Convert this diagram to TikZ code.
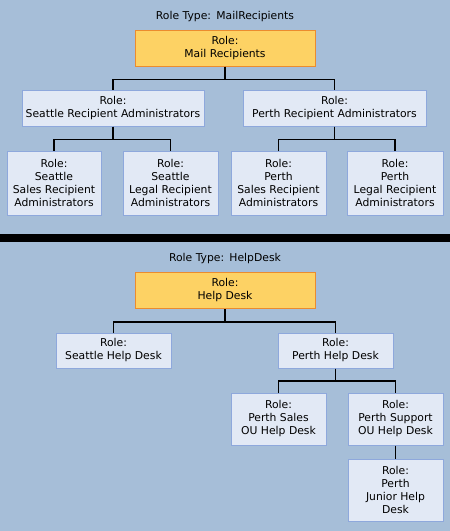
\documentclass[tikz,border=0pt]{standalone}
\usepackage{fontspec}
\setmainfont{DejaVu Sans}
\definecolor{bgblue}{HTML}{A6BED8}
\definecolor{boxfill}{HTML}{E2E9F5}
\definecolor{boxline}{HTML}{8EA8DC}
\definecolor{topfill}{HTML}{FDD264}
\definecolor{topline}{HTML}{EB8C2E}

\begin{document}
\begin{tikzpicture}[x=1pt,y=-1pt,
  rolebox/.style={draw=boxline,fill=boxfill,line width=1pt,inner sep=0pt,
    align=center,font=\fontsize{10.8}{13}\selectfont},
  toprole/.style={rolebox,draw=topline,fill=topfill,minimum width=180pt,minimum height=36pt},
  tree/.style={line width=1.8pt,black},
  typetitle/.style={font=\fontsize{10.8}{13}\selectfont}]
\useasboundingbox (0,0) rectangle (450,531);
\fill[bgblue] (0,0) rectangle (450,531);
% Mail recipients
\node[typetitle] (title1) at (225,17) {Role Type:\ \,MailRecipients};
\node[toprole] (mail) at (225,48) {Role:\\Mail Recipients};
\node[rolebox,minimum width=182pt,minimum height=36pt] (seaadm) at (113,108)
  {Role:\\Seattle Recipient Administrators};
\node[rolebox,minimum width=183pt,minimum height=36pt] (peradm) at (334.5,108)
  {Role:\\Perth Recipient Administrators};
\node[rolebox,minimum width=94pt,minimum height=64pt] (seasales) at (54,183)
  {Role:\\Seattle\\Sales Recipient\\Administrators};
\node[rolebox,minimum width=95pt,minimum height=64pt] (sealegal) at (170.5,183)
  {Role:\\Seattle\\Legal Recipient\\Administrators};
\node[rolebox,minimum width=95pt,minimum height=64pt] (persales) at (278.5,183)
  {Role:\\Perth\\Sales Recipient\\Administrators};
\node[rolebox,minimum width=96pt,minimum height=64pt] (perlegal) at (395,183)
  {Role:\\Perth\\Legal Recipient\\Administrators};
\draw[tree] (mail.south) -- ++(0,13) -| (seaadm.north);
\draw[tree] (mail.south) -- ++(0,13) -| (peradm.north);
\draw[tree] (seaadm.south) -- ++(0,13) -| (seasales.north);
\draw[tree] (seaadm.south) -- ++(0,13) -| (sealegal.north);
\draw[tree] (peradm.south) -- ++(0,13) -| (persales.north);
\draw[tree] (peradm.south) -- ++(0,13) -| (perlegal.north);
% separator
\fill[black] (0,234) rectangle (450,242);
% Help desk
\node[typetitle] (title2) at (225,259) {Role Type:\ \,HelpDesk};
\node[toprole] (help) at (225,290.5) {Role:\\Help Desk};
\node[rolebox,minimum width=115pt,minimum height=35pt] (seahd) at (113.5,350.5)
  {Role:\\Seattle Help Desk};
\node[rolebox,minimum width=115pt,minimum height=35pt] (perhd) at (335.5,350.5)
  {Role:\\Perth Help Desk};
\node[rolebox,minimum width=95pt,minimum height=52pt] (persalesou) at (278.5,419)
  {Role:\\Perth Sales\\OU Help Desk};
\node[rolebox,minimum width=95pt,minimum height=52pt] (persupou) at (395.5,419)
  {Role:\\Perth Support\\OU Help Desk};
\node[rolebox,minimum width=95pt,minimum height=62pt] (junior) at (395.5,490)
  {Role:\\Perth\\Junior Help\\Desk};
\draw[tree] (help.south) -- ++(0,13) -| (seahd.north);
\draw[tree] (help.south) -- ++(0,13) -| (perhd.north);
\draw[tree] (perhd.south) -- ++(0,12.5) -| (persalesou.north);
\draw[tree] (perhd.south) -- ++(0,12.5) -| (persupou.north);
\draw[tree] (persupou.south) -- (junior.north);
\end{tikzpicture}
\end{document}
